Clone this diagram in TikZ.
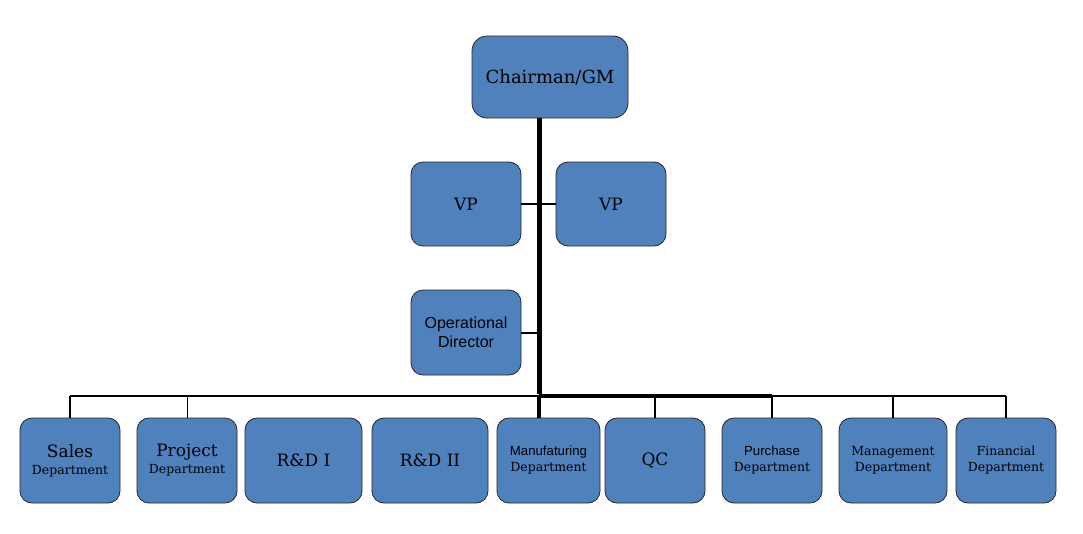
\documentclass[tikz,border=0pt]{standalone}
\usepackage{fontspec}
\setmainfont{DejaVu Serif}
\newfontfamily\arialfont{Liberation Sans}
\usetikzlibrary{positioning}
\definecolor{boxblue}{HTML}{4F81BD}
\tikzstyle{unit} = [rectangle, draw=black!85, line width=0.8pt, fill=boxblue,
    rounded corners=12pt, align=center, text centered, inner sep=0pt,
    outer sep=0pt, minimum height=85pt, font=\bigtxt]
\tikzstyle{dept} = [unit, minimum width=100pt]
\tikzstyle{link} = [line width=2.5pt]
\tikzstyle{trunk} = [line width=5pt]
\newcommand{\bigtxt}{\fontsize{17}{20}\selectfont}
\newcommand{\smalltxt}{\fontsize{12.5}{16}\selectfont}
\newcommand{\sanstxt}{\arialfont\fontsize{13.2}{16}\selectfont}

\begin{document}
\begin{tikzpicture}[x=1pt, y=-1pt]
    \useasboundingbox (0,0) rectangle (1083,533);
    % Place nodes
    \node [unit, minimum width=156pt, minimum height=82pt, rounded corners=15pt, font=\fontsize{18}{21}\selectfont] (chair) at (550,77) {Chairman/GM};
    \node [unit, minimum width=110pt, minimum height=84pt] (vpl) at (466,204) {VP};
    \node [unit, minimum width=110pt, minimum height=84pt, right=35pt of vpl] (vpr) {VP};
    \node [unit, minimum width=110pt, below=44pt of vpl, font=\arialfont\fontsize{16}{19}\selectfont] (od) {Operational\\Director};
    \node [dept] (sales) at (70,460.5) {Sales\\[-3pt]{\smalltxt Department}};
    \node [dept, right=17pt of sales] (proj) {Project\\[-3pt]{\smalltxt Department}};
    \node [dept, minimum width=117pt, right=8pt of proj] (rd1) {R\&D I};
    \node [dept, minimum width=116pt, right=10pt of rd1] (rd2) {R\&D II};
    \node [dept, minimum width=103pt, right=9pt of rd2, font=\sanstxt] (manu) {Manufaturing\\{\rmfamily\smalltxt Department}};
    \node [dept, right=5pt of manu] (qc) {QC};
    \node [dept, right=17pt of qc, font=\sanstxt] (purch) {Purchase\\{\rmfamily\smalltxt Department}};
    \node [dept, minimum width=108pt, right=17pt of purch, font=\smalltxt] (mgmt) {Management\\Department};
    \node [dept, right=9pt of mgmt, font=\smalltxt] (fin) {Financial\\Department};

    % Draw edges
    \coordinate (top) at (539,118);
    \coordinate (hub) at (539,396);
    \coordinate (busL) at (sales.north |- hub);
    \coordinate (busR) at (fin.north |- hub);
    \draw [line width=2pt] (vpl.east) -- (vpr.west);
    \draw [line width=2pt] (od.east) -- (od.east -| hub);
    \draw [link] (busL) -- (busR);
    \draw [line width=4.5pt] (hub) -- (purch.north |- hub);
    \draw [trunk] (top) -- ([yshift=2pt]hub);
    \draw [line width=3.5pt] (hub) -- (hub |- manu.north);
    \draw [line width=0.8pt] (proj.north |- hub) -- (proj.north);
    \foreach \d in {sales, qc, purch, mgmt, fin}
        \draw [link] (\d.north |- hub) -- (\d.north);
\end{tikzpicture}
\end{document}
